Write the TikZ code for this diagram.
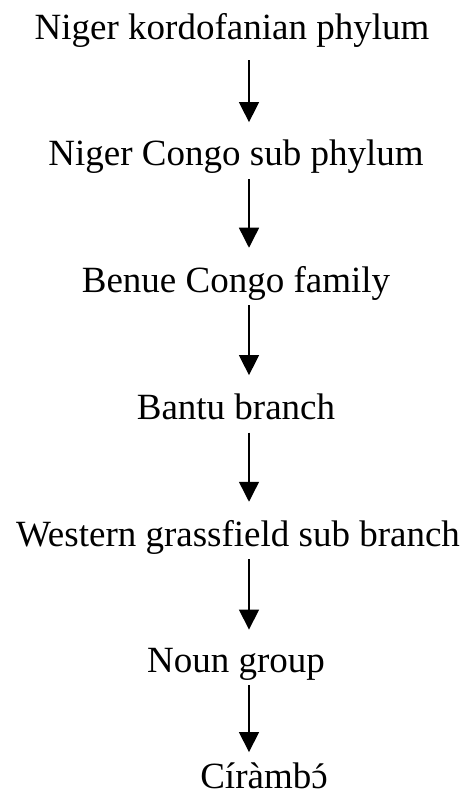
\documentclass[tikz,border=0pt]{standalone}
\usepackage{fontspec}
\setmainfont{Liberation Serif}
\usetikzlibrary{arrows.meta}
\newcommand{\oacuto}{\ooalign{ɔ\cr\hidewidth\raisebox{-0.1ex}{´}\hidewidth\cr}}
\tikzset{
  nivel/.style={inner sep=0pt, anchor=base, font=\fontsize{37}{40}\selectfont},
  flecha/.style={-{Triangle[width=20pt,length=20pt]}, line width=1.4pt, shorten <=5pt, shorten >=18pt}
}
\begin{document}
\begin{tikzpicture}[x=1pt,y=-1pt]
  \useasboundingbox (0,0) rectangle (465,799);

  % Niveles
  \node[nivel] (phylum) at (232,40) {Niger kordofanian phylum};
  \node[nivel] (subphylum) at (236,166) {Niger Congo sub phylum};
  \node[nivel] (familia) at (236,292) {Benue Congo family};
  \node[nivel] (rama) at (236,419) {Bantu branch};
  \node[nivel] (subrama) at (238,546) {Western grassfield sub branch};
  \node[nivel] (grupo) at (236,672) {Noun group};
  \node[nivel] (lengua) at (264,788) {Círàmb\oacuto};

  % Flechas
  \coordinate (eje) at (249,0);
  \draw[flecha, shorten <=12pt] (phylum.south -| eje) -- (subphylum.north -| eje);
  \draw[flecha] (subphylum.south -| eje) -- (familia.north -| eje);
  \draw[flecha] (familia.south -| eje) -- (rama.north -| eje);
  \draw[flecha, shorten <=13pt] (rama.south -| eje) -- (subrama.north -| eje);
  \draw[flecha] (subrama.south -| eje) -- (grupo.north -| eje);
  \draw[flecha, shorten >=10pt] (grupo.south -| eje) -- (lengua.north -| eje);
\end{tikzpicture}
\end{document}
